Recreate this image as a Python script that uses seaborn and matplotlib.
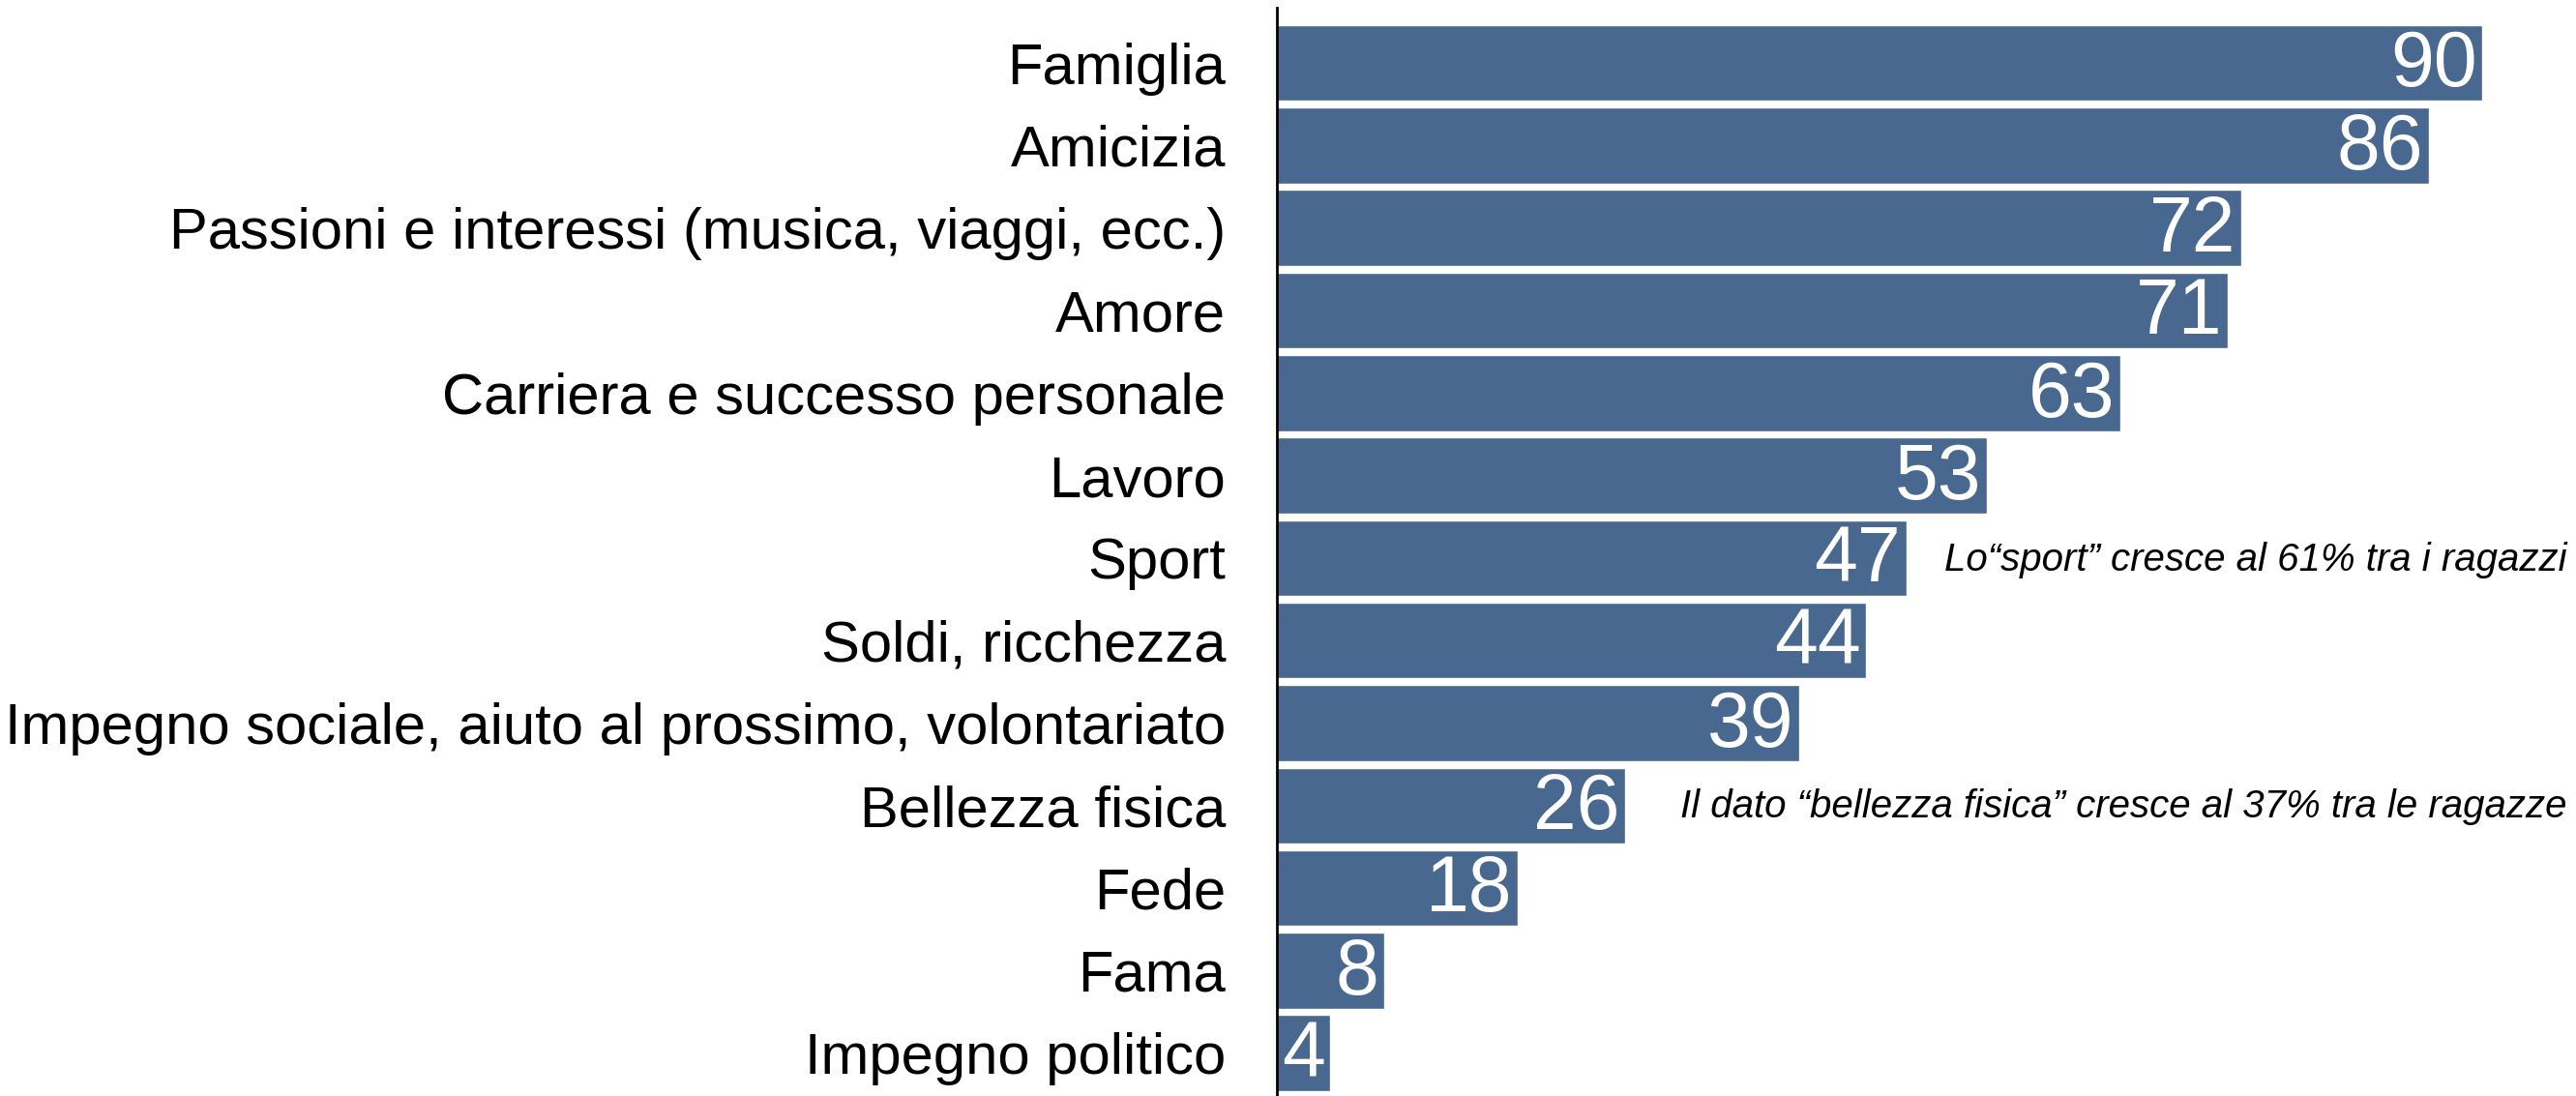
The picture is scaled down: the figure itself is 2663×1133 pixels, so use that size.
import pandas as pd
import seaborn as sns
import matplotlib.pyplot as plt

# --- Data ---
categories = [
    "Famiglia",
    "Amicizia",
    "Passioni e interessi (musica, viaggi, ecc.)",
    "Amore",
    "Carriera e successo personale",
    "Lavoro",
    "Sport",
    "Soldi, ricchezza",
    "Impegno sociale, aiuto al prossimo, volontariato",
    "Bellezza fisica",
    "Fede",
    "Fama",
    "Impegno politico",
]
values = [90, 86, 72, 71, 63, 53, 47, 44, 39, 26, 18, 8, 4]

notes = {
    "Sport": "Lo“sport” cresce al 61% tra i ragazzi",
    "Bellezza fisica": "Il dato “bellezza fisica” cresce al 37% tra le ragazze",
}

df = pd.DataFrame({"categoria": categories, "valore": values})

# --- Style ---
sns.set_style("white")
plt.rcParams["font.family"] = ["Liberation Sans", "DejaVu Sans"]

bar_color = "#48688f"

fig = plt.figure(figsize=(26.63, 11.33), dpi=100)
ax = fig.add_axes([0.4957, 0.0, 0.5043, 0.993])

sns.barplot(data=df, x="valore", y="categoria", orient="h",
            color=bar_color, width=0.92, saturation=1, ax=ax)

ax.set_xlim(0, 97)
ax.set_ylim(12.52, -0.67)

# value labels inside the bars
for i, v in enumerate(values):
    ax.text(v - 0.4, i + 0.04, str(v), ha="right", va="center",
            color="white", fontsize=58)

# side notes
for i, cat in enumerate(categories):
    if cat in notes:
        ax.text(96.3, i + 0.02, notes[cat], ha="right", va="center",
                fontsize=29, style="italic", color="black", clip_on=False)

# --- Axes cleanup ---
for side in ["top", "right", "bottom"]:
    ax.spines[side].set_visible(False)
ax.spines["left"].set_color("black")
ax.spines["left"].set_linewidth(2)
ax.set_xticks([])
ax.set_xlabel("")
ax.set_ylabel("")
ax.tick_params(axis="y", length=0, pad=38, labelsize=43, labelcolor="black")

plt.savefig("out.png", dpi=100)
